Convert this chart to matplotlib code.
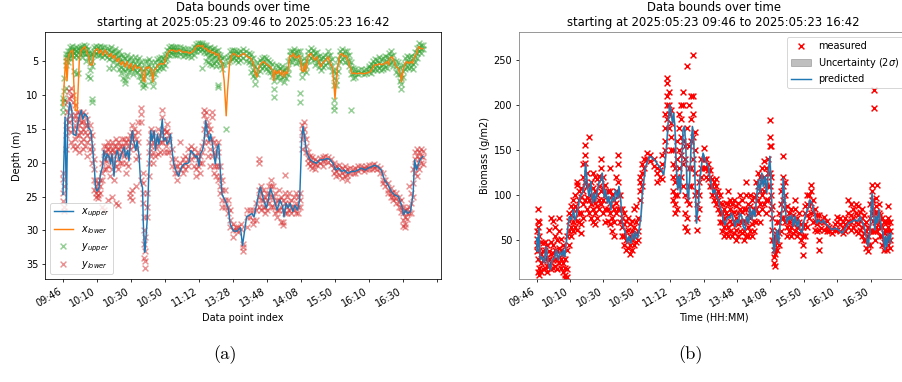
import matplotlib
matplotlib.use("Agg")
import matplotlib.pyplot as plt

# ---------------------------------------------------------------- data
tick_labels = ['09:46', '10:10', '10:30', '10:50', '11:12', '13:28',
               '13:48', '14:08', '15:50', '16:10', '16:30']
tick_pos = [0, 50, 100, 150, 200, 250, 300, 350, 400, 450, 500, 550]

title_text = "Data bounds over time\nstarting at 2025:05:23 09:46 to 2025:05:23 16:42"

# depth bounds (index, depth in m)
x_upper = [(0, 24.7), (3, 13.3), (5, 26.2), (7, 13.8), (10, 11.1), (13, 12.3), (15, 15.8),
           (19, 16.0), (21, 14.8), (24, 13.1), (27, 12.3), (29, 13.6), (32, 12.8), (36, 13.3),
           (37, 14.8), (41, 15.3), (43, 17.3), (46, 20.7), (48, 23.7), (50, 24.2), (53, 23.7),
           (55, 21.7), (58, 20.7), (60, 18.2), (63, 19.7), (65, 18.7), (68, 19.2), (70, 20.2),
           (72, 18.7), (75, 22.0), (77, 19.2), (80, 18.2), (83, 19.7), (86, 18.7), (90, 17.7),
           (92, 19.2), (95, 18.2), (97, 19.7), (99, 17.3), (102, 15.3), (104, 16.8), (107, 18.2),
           (109, 16.8), (112, 19.2), (114, 22.7), (117, 23.7), (118, 28.6), (120, 33.2),
           (121, 32.5), (124, 28.2), (126, 22.2), (129, 15.3), (131, 16.8), (134, 15.3),
           (136, 18.2), (139, 15.8), (141, 17.3), (143, 16.3), (146, 13.6), (148, 16.8),
           (151, 16.3), (153, 17.3), (156, 16.8), (158, 15.8), (161, 18.7), (163, 20.2),
           (167, 21.4), (170, 22.0), (174, 20.7), (178, 20.2), (183, 20.1), (185, 20.0),
           (188, 18.2), (192, 18.7), (195, 19.2), (197, 19.0), (200, 20.5), (202, 18.7),
           (205, 18.2), (207, 17.3), (210, 13.8), (212, 15.3), (215, 16.8), (217, 15.8),
           (219, 16.8), (224, 20.2), (227, 17.7), (229, 17.3), (232, 22.2), (234, 24.7),
           (239, 25.7), (243, 26.7), (246, 29.1), (251, 30.1), (256, 30.1), (261, 29.6),
           (264, 32.2), (270, 28.0), (278, 27.5), (281, 28.0), (285, 26.0), (290, 23.6),
           (292, 24.3), (295, 25.5), (299, 26.7), (302, 25.5), (305, 23.8), (309, 25.0),
           (312, 26.0), (315, 27.0), (319, 25.5), (323, 26.5), (325, 28.0), (328, 26.0),
           (331, 26.7), (334, 26.0), (338, 27.2), (341, 26.3), (345, 27.0), (348, 25.5),
           (351, 16.7), (353, 14.7), (356, 16.7), (358, 18.4), (361, 19.1), (364, 19.6),
           (368, 19.9), (373, 20.1), (378, 19.6), (383, 19.6), (388, 19.4), (392, 19.5),
           (397, 20.1), (401, 21.1), (405, 20.8), (410, 21.3), (414, 21.1), (419, 21.6),
           (424, 21.3), (429, 21.3), (434, 21.1), (439, 20.8), (444, 21.1), (449, 20.8),
           (454, 20.6), (458, 20.4), (463, 20.6), (468, 21.1), (473, 22.6), (478, 23.3),
           (483, 24.3), (488, 24.8), (493, 25.0), (498, 26.3), (501, 27.7), (504, 27.0),
           (507, 27.5), (511, 27.2), (515, 24.5), (517, 19.6), (520, 21.1), (522, 20.4),
           (525, 19.6), (529, 19.1)]

x_lower = [(0, 11.6), (2, 7.9), (4, 4.6), (6, 7.9), (8, 4.4), (11, 3.7), (14, 3.4), (16, 8.4),
           (18, 12.3), (21, 12.3), (24, 4.9), (26, 3.5), (29, 3.2), (32, 2.9), (35, 3.7),
           (38, 4.4), (40, 5.6), (43, 5.6), (46, 3.7), (48, 3.4), (51, 3.2), (53, 3.9), (56, 3.4),
           (59, 4.2), (62, 3.4), (65, 3.9), (68, 4.4), (71, 3.9), (73, 4.6), (76, 4.2), (79, 5.1),
           (82, 4.6), (85, 5.6), (88, 5.1), (91, 5.9), (94, 5.1), (97, 6.1), (100, 5.4),
           (103, 6.4), (106, 5.6), (109, 6.1), (113, 5.9), (116, 6.4), (118, 7.9), (120, 8.1),
           (122, 5.9), (124, 6.1), (127, 5.9), (130, 6.4), (132, 8.1), (134, 6.4), (137, 6.1),
           (140, 5.6), (143, 5.4), (146, 5.5), (149, 5.4), (152, 4.4), (155, 3.7), (158, 3.4),
           (161, 3.5), (163, 3.4), (166, 3.7), (169, 3.5), (172, 3.4), (175, 3.7), (179, 3.7),
           (183, 3.7), (186, 3.9), (190, 3.7), (193, 3.4), (196, 2.9), (199, 2.7), (202, 2.9),
           (205, 2.7), (208, 3.2), (211, 3.2), (214, 3.7), (216, 3.4), (219, 3.9), (222, 3.7),
           (225, 4.2), (228, 3.9), (231, 4.9), (234, 5.4), (237, 7.9), (239, 11.3), (240, 13.1),
           (242, 9.4), (245, 5.4), (248, 4.2), (251, 3.9), (255, 4.2), (258, 4.4), (261, 4.2),
           (266, 3.9), (271, 4.4), (276, 4.6), (280, 5.4), (283, 6.9), (285, 7.4), (288, 5.9),
           (291, 5.4), (295, 5.1), (298, 5.4), (301, 5.6), (305, 5.9), (308, 6.4), (310, 7.9),
           (312, 6.4), (315, 6.9), (317, 6.4), (320, 7.1), (322, 6.4), (325, 7.4), (327, 6.6),
           (330, 6.9), (332, 5.4), (334, 4.2), (337, 4.4), (339, 3.9), (342, 4.6), (345, 4.4),
           (348, 4.2), (351, 6.4), (353, 6.6), (355, 5.4), (357, 6.6), (359, 5.1), (361, 4.2),
           (364, 3.9), (366, 4.2), (370, 4.9), (373, 4.4), (376, 5.1), (379, 5.9), (381, 5.4),
           (384, 5.1), (387, 4.9), (390, 4.4), (393, 5.4), (396, 5.9), (398, 7.9), (400, 10.6),
           (402, 7.9), (404, 5.9), (407, 4.2), (410, 3.9), (413, 4.4), (416, 4.2), (419, 4.9),
           (422, 5.9), (425, 6.9), (428, 6.8), (432, 6.9), (437, 6.8), (442, 6.9), (447, 6.8),
           (452, 6.6), (455, 6.1), (458, 5.6), (462, 5.6), (466, 5.4), (469, 5.6), (473, 5.4),
           (476, 5.1), (479, 5.6), (481, 4.6), (484, 4.4), (487, 5.1), (490, 5.9), (493, 6.1),
           (496, 6.9), (498, 8.1), (500, 6.4), (503, 5.4), (505, 5.1), (508, 5.4), (511, 5.1),
           (514, 5.4), (517, 4.4), (520, 3.9), (523, 2.9), (526, 3.2), (529, 3.2)]

# observed depth bounds, grouped by index
y_upper = [(0, [11.0, 11.8, 12.5, 10.5]), (2, [9.5, 10.8, 7.5]), (4, [4.5, 5.0, 5.6, 4.0, 9.0]),
           (7, [4.0, 4.6, 3.5, 5.2]), (10, [3.5, 4.0, 3.0, 4.6]), (13, [3.2, 3.6, 4.2, 2.8]),
           (16, [3.3, 3.9, 4.5, 6.5]), (19, [3.0, 3.6, 4.2, 7.0]), (22, [3.1, 3.7, 4.4, 6.8]),
           (25, [2.9, 3.4, 4.0]), (28, [2.8, 3.3, 3.9, 4.5]), (31, [2.7, 3.2, 3.8]),
           (34, [2.8, 3.4, 4.0, 5.0]), (37, [3.2, 3.8, 4.5, 7.2]), (40, [3.8, 4.5, 5.3, 7.5, 6.3]),
           (43, [4.0, 5.0, 5.8, 10.6, 11.0]), (46, [2.9, 3.5, 4.2]), (49, [2.8, 3.3, 4.0]),
           (52, [2.9, 3.5, 4.2]), (55, [2.8, 3.4, 4.1]), (58, [3.0, 3.7, 4.5]), (61, [2.9, 3.5, 4.2]),
           (64, [3.1, 3.8, 4.5]), (67, [3.3, 4.0, 4.8, 6.0]), (70, [3.0, 3.7, 4.5]),
           (73, [3.5, 4.3, 5.2, 6.0]), (76, [3.3, 4.0, 4.8]), (79, [3.8, 4.6, 5.5]),
           (82, [3.6, 4.4, 5.2, 6.2]), (85, [4.2, 5.0, 5.9, 6.8]), (88, [4.3, 5.2, 6.2, 7.5]),
           (91, [4.6, 5.5, 6.5, 7.8, 8.2]), (94, [4.2, 5.0, 6.0, 7.2]), (97, [4.8, 5.7, 6.6]),
           (100, [4.5, 5.3, 6.2, 5.9]), (103, [5.0, 6.0, 6.9]), (106, [4.5, 5.4, 6.3]),
           (109, [4.9, 5.8, 6.7]), (112, [4.6, 5.5, 6.4, 7.3]), (115, [5.2, 6.1, 7.2, 8.0]),
           (118, [6.5, 7.5, 8.4, 8.8]), (121, [5.0, 6.0, 7.2, 8.5]), (124, [5.0, 5.9, 6.8]),
           (127, [4.8, 5.7, 6.6]), (130, [5.2, 6.1, 7.0, 8.0]), (132, [6.8, 7.8, 8.7]),
           (135, [5.2, 6.0, 6.9]), (138, [4.8, 5.6, 6.4]), (141, [4.6, 5.3, 6.0]),
           (144, [4.5, 5.2, 5.9]), (147, [4.6, 5.3, 6.0]), (150, [4.2, 4.9, 5.6]),
           (153, [3.4, 4.0, 4.7]), (156, [2.9, 3.5, 4.1]), (159, [2.8, 3.3, 3.9]),
           (162, [2.9, 3.4, 4.0]), (165, [3.0, 3.6, 4.2]), (168, [3.0, 3.5, 4.1]),
           (172, [2.9, 3.4, 4.0]), (176, [3.1, 3.7, 4.3]), (180, [3.2, 3.7, 4.2]),
           (184, [3.2, 3.8, 4.3]), (188, [3.3, 3.9, 4.4]), (192, [3.0, 3.5, 4.1]),
           (195, [2.5, 3.0, 3.5]), (198, [2.3, 2.8, 3.3]), (201, [2.4, 2.9, 3.5]),
           (204, [2.3, 2.7, 3.2, 6.0]), (207, [2.6, 3.1, 3.7]), (210, [2.7, 3.2, 3.8, 5.0]),
           (213, [3.1, 3.7, 4.4, 5.2]), (216, [3.0, 3.5, 4.2, 5.5]), (219, [3.3, 4.0, 4.8, 5.6]),
           (222, [3.1, 3.7, 4.5, 5.3]), (225, [3.5, 4.2, 5.0, 5.8]), (228, [3.4, 4.0, 4.8, 8.5, 8.9]),
           (231, [4.2, 4.9, 5.6]), (234, [4.6, 5.4, 6.2]), (237, [4.5, 5.5]), (240, [15.0]),
           (243, [4.5, 5.2]), (246, [3.6, 4.3, 5.0]), (249, [3.4, 4.0, 4.7]), (252, [3.4, 4.0, 4.6]),
           (255, [3.6, 4.2, 4.9]), (258, [3.7, 4.4, 5.1]), (261, [3.6, 4.2, 4.9]),
           (265, [3.3, 3.9, 4.6]), (269, [3.6, 4.2, 5.0]), (273, [3.8, 4.5, 5.2]),
           (277, [4.0, 4.7, 5.5, 6.6]), (280, [4.6, 5.4, 6.3, 7.3]), (283, [5.7, 6.8, 7.6, 8.4]),
           (286, [5.2, 6.2, 7.0]), (289, [4.9, 5.7, 6.5]), (292, [4.6, 5.3, 6.1]),
           (296, [4.4, 5.1, 5.8]), (299, [4.6, 5.4, 6.2]), (302, [4.9, 5.7, 6.5]),
           (305, [5.1, 5.9, 6.7]), (308, [5.5, 6.4, 7.3]), (310, [6.8, 7.9, 9.1, 10.3]),
           (313, [5.6, 6.5, 7.4]), (316, [5.7, 6.5, 7.3]), (319, [6.0, 6.9, 7.8]),
           (322, [5.7, 6.5, 7.4]), (325, [6.4, 7.3, 8.1]), (328, [6.0, 6.8, 7.6]),
           (331, [5.0, 6.0, 7.0]), (334, [3.5, 4.2, 5.0]), (337, [3.6, 4.4, 5.2]),
           (340, [3.2, 3.9, 4.6]), (343, [3.7, 4.5, 5.3]), (346, [3.5, 4.3, 5.1]),
           (349, [3.6, 4.4, 5.2, 9.8, 11.1]), (352, [5.5, 6.5, 7.4]), (355, [4.6, 5.4, 6.3]),
           (358, [5.0, 5.8, 6.7]), (361, [3.5, 4.2, 5.0]), (364, [3.1, 3.8, 4.6]),
           (367, [3.4, 4.1, 4.9]), (371, [3.9, 4.8, 5.6]), (374, [3.7, 4.4, 5.2]),
           (377, [4.3, 5.1, 5.9]), (380, [4.6, 5.5, 6.4]), (383, [4.4, 5.1, 5.9]),
           (386, [4.1, 4.8, 5.6]), (389, [3.6, 4.3, 5.1]), (392, [4.2, 5.0, 5.8]),
           (395, [4.8, 5.7, 6.5]), (398, [6.5, 7.6, 8.5]), (399, [10.8, 11.6, 12.3]),
           (402, [6.8, 7.8, 8.6]), (405, [4.8, 5.6, 6.5]), (408, [3.5, 4.2, 5.0]),
           (411, [3.3, 4.0, 4.8]), (414, [3.6, 4.3, 5.1]), (417, [3.6, 4.3, 5.0]),
           (420, [4.2, 5.0, 5.8]), (423, [5.2, 6.0, 7.0, 12.2]), (426, [6.0, 6.8, 7.6]),
           (430, [6.2, 6.8, 7.4]), (434, [6.3, 6.9]), (438, [6.2, 6.8]), (442, [6.4, 7.0]),
           (446, [6.2, 6.8]), (450, [6.0, 6.6, 5.8]), (453, [5.5, 6.1, 6.8]), (456, [5.0, 5.6, 6.3]),
           (459, [4.8, 5.5, 6.2]), (462, [4.9, 5.6, 6.4]), (465, [4.5, 5.3, 6.1]),
           (468, [4.8, 5.6, 6.4]), (471, [4.6, 5.4, 6.2]), (474, [4.3, 5.1, 5.9]),
           (477, [4.4, 5.2, 6.0]), (480, [3.9, 4.6, 5.4]), (483, [3.6, 4.3, 5.1]),
           (486, [4.2, 5.0, 5.8]), (489, [5.0, 5.8, 6.7]), (492, [5.2, 6.0, 6.9]),
           (495, [5.9, 7.0, 7.9]), (497, [7.5, 8.4, 9.2]), (500, [5.6, 6.5, 7.4]),
           (503, [4.6, 5.4, 6.2]), (506, [4.3, 5.1, 5.9]), (509, [4.4, 5.2, 6.0]),
           (512, [4.3, 5.1, 5.9]), (515, [4.6, 5.4, 6.2]), (518, [3.7, 4.4, 5.2]),
           (521, [3.1, 3.8, 4.6]), (524, [2.4, 3.0, 3.6]), (527, [2.6, 3.2, 3.8]), (529, [2.7, 3.3])]

y_lower = [(0, [21.5, 22.4, 24.5, 25.7]), (2, [26.5, 27.1, 23.5]), (4, [14.5, 16.0, 18.0]),
           (6, [11.0, 12.5, 13.5, 15.0]), (9, [9.5, 10.5, 12.0, 14.0]),
           (12, [9.0, 10.2, 13.0, 15.5, 17.0]), (15, [10.0, 11.0, 13.5, 15.0, 17.5]),
           (18, [11.5, 13.0, 14.5, 16.5, 18.0]), (21, [12.5, 13.5, 15.0, 16.0, 17.5]),
           (24, [12.5, 13.5, 14.5, 16.0, 18.5]), (27, [13.0, 14.0, 15.5, 17.0]),
           (30, [12.5, 13.8, 15.0, 16.5, 18.0]), (33, [13.0, 14.5, 15.5, 17.5]),
           (36, [13.5, 14.5, 16.0, 17.0, 19.0]), (39, [14.5, 15.5, 16.5, 18.0]),
           (42, [16.0, 17.5, 18.5, 20.0]), (45, [19.5, 21.0, 22.5, 24.0]),
           (48, [22.5, 23.5, 24.5, 25.0]), (51, [23.0, 24.0, 24.8, 25.2]), (54, [22.5, 23.5, 24.5]),
           (57, [20.0, 21.5, 22.5, 26.5]), (60, [17.5, 18.5, 19.5, 21.0, 27.0]),
           (63, [17.5, 18.5, 19.8, 21.0]), (66, [17.0, 18.0, 19.0, 20.5, 25.5]),
           (69, [17.5, 18.5, 19.5, 22.0]), (72, [17.0, 18.2, 19.5, 21.0, 25.0]),
           (75, [17.5, 18.5, 20.0, 22.5]), (78, [16.5, 17.5, 18.5, 20.5, 26.0]),
           (81, [17.0, 18.0, 19.5, 21.0, 26.2]), (84, [17.5, 18.8, 20.0]),
           (87, [16.5, 17.5, 18.5, 20.0]), (90, [16.5, 17.5, 19.0]), (93, [17.0, 18.5, 20.0, 21.5]),
           (96, [16.5, 17.5, 19.0, 20.5]), (99, [16.0, 17.0, 18.0, 24.5, 25.0]),
           (102, [14.5, 15.5, 16.5, 24.0, 25.5]), (105, [15.0, 16.0, 17.5]),
           (108, [16.5, 18.0, 19.5, 23.5]), (111, [14.0, 15.5, 17.0, 19.0]),
           (114, [12.0, 12.8, 14.0, 22.5]), (117, [21.5, 23.0, 24.5, 26.0]),
           (119, [28.0, 30.0, 32.0, 34.0]), (121, [31.0, 33.0, 34.5, 35.5]),
           (124, [24.5, 26.5, 28.0]), (127, [17.0, 18.5, 20.0, 22.0]),
           (130, [15.0, 16.0, 17.5, 19.0]), (133, [15.5, 17.0, 18.5, 20.0]),
           (136, [16.5, 17.5, 19.0]), (139, [15.0, 16.5, 17.5, 18.8]), (142, [16.0, 17.0, 18.5]),
           (145, [12.3, 13.3, 15.5, 17.0]), (148, [15.0, 16.5, 18.5]), (151, [15.5, 16.5, 17.5]),
           (153, [14.3, 15.3, 18.5]), (156, [16.0, 17.0, 18.5]), (160, [18.0, 19.5, 20.5]),
           (164, [19.5, 20.5, 21.5]), (168, [20.5, 21.5, 22.5]), (172, [20.0, 21.0, 17.0]),
           (176, [19.5, 20.5, 21.5]), (180, [19.0, 20.0, 21.0]), (184, [18.0, 19.5, 20.5]),
           (188, [17.5, 18.5, 19.5]), (192, [18.0, 19.0, 20.5]), (195, [21.0, 22.0, 19.0]),
           (198, [18.5, 19.5, 20.5]), (201, [19.0, 20.0, 21.5]), (204, [17.5, 18.5, 20.0]),
           (207, [13.0, 15.0, 17.0, 12.3]), (210, [12.5, 13.5, 14.5, 16.0]),
           (213, [14.5, 15.5, 17.0, 19.0]), (216, [15.0, 16.5, 18.0, 20.5]),
           (219, [12.5, 13.3, 16.5, 19.0]), (222, [17.0, 18.5, 20.5, 21.5]),
           (225, [17.5, 19.0, 20.5, 22.0]), (228, [17.0, 18.5, 20.5, 22.5]),
           (231, [20.5, 22.0, 23.5, 24.5]), (234, [22.5, 24.0, 25.5, 26.5]),
           (238, [24.0, 25.5, 26.5]), (242, [25.5, 26.5, 27.5]), (246, [27.0, 28.5, 29.5]),
           (250, [29.0, 30.0, 31.0]), (254, [29.5, 30.0]), (258, [29.5, 30.2]), (262, [29.0, 29.8]),
           (265, [32.5, 33.0, 32.0]), (270, [27.0, 28.0, 29.5]), (275, [27.0, 28.0]),
           (280, [27.0, 28.5, 29.0]), (284, [26.0, 27.0, 28.5]),
           (288, [24.0, 25.0, 26.5, 19.5, 20.1]), (291, [23.5, 24.5, 25.5, 27.0]),
           (294, [24.0, 25.5, 26.5]), (297, [25.0, 26.5, 27.5]), (300, [24.5, 25.5, 27.0]),
           (303, [23.5, 24.5, 26.0]), (306, [22.5, 23.5, 25.0, 26.5]), (309, [23.5, 25.0, 26.5]),
           (312, [24.5, 26.0, 27.5]), (315, [25.5, 27.0, 28.0]), (318, [24.0, 25.5, 27.0]),
           (321, [25.0, 26.5, 28.8]), (324, [25.5, 27.0, 29.2, 28.7]),
           (327, [24.5, 26.0, 27.5, 21.8]), (330, [25.0, 26.5, 27.5]), (333, [24.5, 26.0, 27.0]),
           (336, [25.5, 26.5, 27.5]), (339, [25.0, 26.5, 27.0]), (342, [24.5, 26.0, 27.5]),
           (345, [25.0, 26.5, 27.5]), (348, [24.5, 25.5, 26.5]), (351, [14.5, 15.5, 16.5, 18.0]),
           (354, [14.0, 15.0, 16.0]), (357, [16.5, 17.5, 18.5]), (360, [18.5, 19.3, 20.0]),
           (363, [19.0, 19.8, 20.5]), (366, [19.2, 20.0, 20.8]), (370, [19.5, 20.2, 21.0]),
           (374, [19.7, 20.3]), (378, [19.3, 20.0]), (382, [19.2, 19.8, 20.5]), (386, [19.0, 19.7]),
           (390, [19.2, 19.9]), (394, [19.5, 20.3]), (398, [20.0, 20.8, 21.5]),
           (402, [20.5, 21.3, 22.0]), (406, [20.3, 21.0, 21.8]), (410, [20.8, 21.5, 22.3]),
           (414, [20.5, 21.3, 22.0]), (418, [21.0, 21.8, 22.5]), (422, [20.8, 21.5]),
           (426, [21.0, 21.6]), (430, [20.8, 21.5]), (434, [20.5, 21.2]), (438, [20.5, 21.0]),
           (442, [20.8, 21.3]), (446, [20.5, 21.0]), (450, [20.4, 20.9]), (454, [20.3, 20.9]),
           (458, [20.2, 20.8]), (462, [20.5, 21.0]), (466, [20.8, 21.5]), (470, [21.5, 22.5, 23.0]),
           (474, [22.5, 23.5]), (478, [23.0, 24.0, 24.5]), (482, [23.8, 24.5, 25.0]),
           (486, [24.3, 25.0, 25.5]), (490, [24.5, 25.2, 26.0]), (494, [25.0, 25.8, 26.5]),
           (497, [25.5, 26.5, 27.3]), (500, [26.5, 27.5, 28.5, 29.3]),
           (503, [27.0, 28.0, 29.0, 29.5]), (506, [26.8, 27.5, 28.3]), (509, [26.5, 27.5, 23.5]),
           (512, [24.5, 26.0, 27.5]), (515, [21.0, 23.0, 25.0]), (518, [18.5, 19.5, 20.5, 21.5]),
           (521, [18.0, 19.0, 20.5, 22.0]), (524, [18.5, 19.5, 21.0]), (527, [18.0, 19.0, 20.0]),
           (529, [18.3, 19.2, 20.2])]

# biomass (index, g/m2)
predicted = [(0, 52.7), (1, 37.9), (3, 63.7), (5, 28.6), (8, 32.3), (11, 25.0), (14, 43.4),
             (17, 25.0), (20, 17.6), (23, 28.6), (26, 30.5), (29, 39.8), (32, 28.6), (35, 37.9),
             (38, 32.3), (40, 39.8), (42, 32.3), (44, 47.1), (47, 67.4), (49, 76.7), (52, 73.0),
             (55, 84.0), (57, 73.0), (59, 76.7), (62, 87.8), (65, 98.9), (68, 102.6), (71, 110.0),
             (73, 135.8), (76, 110.0), (78, 99.0), (81, 115.5), (83, 91.5), (86, 102.6),
             (88, 93.3), (91, 106.3), (93, 113.7), (96, 117.4), (98, 124.8), (101, 97.0),
             (103, 106.3), (106, 91.5), (108, 98.9), (111, 84.1), (113, 98.9), (116, 93.3),
             (118, 106.3), (121, 97.0), (123, 110.0), (126, 91.5), (128, 69.3), (131, 61.9),
             (133, 58.1), (136, 47.1), (138, 54.5), (141, 47.1), (143, 58.1), (146, 50.8),
             (148, 60.0), (151, 52.7), (153, 61.9), (156, 76.7), (158, 102.6), (161, 121.0),
             (163, 132.1), (166, 137.7), (169, 143.3), (173, 141.4), (178, 137.7), (183, 132.1),
             (187, 128.4), (190, 122.8), (192, 135.8), (195, 161.6), (197, 183.8), (199, 200.4),
             (201, 194.9), (203, 180.1), (205, 191.2), (207, 172.7), (209, 128.4), (211, 106.3),
             (213, 121.0), (215, 102.6), (217, 135.8), (219, 172.7), (221, 176.4), (223, 158.0),
             (225, 106.3), (227, 95.2), (229, 121.0), (231, 154.3), (233, 176.4), (235, 161.6),
             (237, 113.7), (239, 69.3), (242, 91.5), (244, 117.4), (247, 135.8), (249, 146.9),
             (252, 139.5), (254, 135.8), (257, 132.0), (259, 121.0), (262, 110.0), (264, 102.6),
             (267, 106.3), (269, 98.9), (272, 95.2), (274, 87.8), (277, 82.2), (279, 73.0),
             (282, 67.4), (284, 73.0), (287, 76.7), (289, 74.8), (292, 80.4), (294, 73.0),
             (297, 65.6), (299, 73.0), (302, 69.3), (304, 80.4), (307, 76.7), (309, 65.6),
             (312, 61.9), (314, 76.7), (317, 69.3), (319, 87.8), (322, 73.0), (324, 84.1),
             (327, 76.7), (329, 98.9), (332, 117.4), (334, 102.6), (337, 124.8), (339, 110.0),
             (342, 121.0), (344, 102.6), (347, 128.4), (349, 143.3), (351, 106.3), (353, 61.9),
             (355, 35.9), (357, 47.1), (359, 61.9), (362, 47.1), (364, 65.6), (367, 84.1),
             (369, 119.0), (372, 87.8), (374, 69.3), (377, 76.7), (379, 73.0), (382, 78.5),
             (384, 65.6), (387, 76.7), (389, 65.6), (392, 73.0), (394, 61.9), (397, 58.1),
             (399, 69.3), (402, 76.7), (404, 82.2), (407, 87.8), (409, 95.2), (412, 91.5),
             (414, 84.1), (417, 76.7), (419, 69.3), (422, 73.0), (424, 71.1), (427, 69.3),
             (429, 73.0), (432, 69.3), (437, 65.6), (442, 61.9), (447, 63.7), (452, 61.9),
             (457, 58.1), (462, 63.7), (467, 69.3), (472, 71.1), (477, 73.0), (481, 71.1),
             (484, 76.7), (487, 71.1), (490, 65.6), (493, 54.5), (496, 43.4), (499, 61.9),
             (500, 76.7), (502, 102.6), (504, 84.1), (506, 61.9), (508, 76.7), (510, 69.3),
             (512, 84.1), (514, 73.0), (517, 61.9), (519, 54.5), (521, 39.8), (522, 54.5),
             (524, 43.4), (526, 58.1), (529, 47.1), (530, 58.1)]

measured = [(0, [38, 45, 52, 60]), (2, [15, 30, 65, 72, 85]), (4, [12, 20, 40, 55, 70]),
            (7, [15, 25, 35, 48]), (10, [18, 28, 38, 47]), (13, [20, 30, 40, 48]),
            (16, [15, 22, 32, 45]), (19, [22, 30, 38, 62]), (22, [18, 25, 35, 48, 75]),
            (25, [20, 28, 36, 45, 72]), (28, [22, 30, 40, 55, 65]), (31, [18, 28, 38, 50]),
            (34, [25, 32, 42, 60, 75]), (37, [20, 30, 40, 52]), (40, [15, 25, 35, 45]),
            (43, [8, 12, 20, 30]), (46, [10, 18, 40, 55]), (49, [45, 60, 72, 80]),
            (52, [55, 65, 78, 88]), (55, [60, 70, 85, 95]), (58, [65, 75, 88, 100]),
            (61, [62, 72, 85, 112, 115]), (64, [70, 80, 95, 105]), (67, [58, 68, 80, 98, 108]),
            (70, [75, 90, 105, 120, 135]), (73, [95, 115, 136, 145, 156]), (76, [85, 98, 110, 125]),
            (79, [80, 95, 165, 112]), (82, [75, 90, 100, 115]), (85, [70, 85, 95, 108, 125]),
            (88, [68, 80, 92, 105, 120]), (91, [75, 88, 100, 118]), (94, [85, 95, 110, 122]),
            (97, [90, 105, 118, 130, 140]), (100, [80, 95, 108, 120]), (103, [70, 85, 100, 112]),
            (106, [72, 85, 95, 105]), (109, [68, 80, 92, 105, 130]), (112, [60, 75, 88, 100]),
            (115, [55, 70, 85, 95]), (118, [80, 92, 105, 120]), (121, [85, 100, 115, 135, 145]),
            (124, [70, 85, 100]), (127, [55, 65, 75, 85]), (130, [45, 55, 68, 80]),
            (133, [40, 50, 60, 72]), (136, [42, 52, 62, 75]), (139, [35, 45, 55, 68]),
            (142, [40, 50, 60, 72]), (145, [45, 55, 65, 85]), (148, [48, 58, 70, 88]),
            (151, [50, 60, 75]), (154, [95, 105, 115, 120]), (157, [110, 125, 135]),
            (160, [130, 140]), (165, [140, 147]), (170, [138, 145]), (175, [132, 140]),
            (180, [125, 130, 115]), (184, [120, 128]), (188, [118, 135, 145]),
            (192, [150, 160, 175, 190]), (195, [185, 200, 210, 225, 230]),
            (198, [175, 190, 200, 215]), (201, [150, 165, 180, 195]),
            (204, [95, 105, 120, 135, 150]), (207, [80, 90, 100, 115, 130]),
            (210, [85, 100, 120, 140, 160]), (213, [110, 130, 150, 175, 190]),
            (216, [120, 145, 165, 185, 200]), (219, [110, 135, 160, 200, 215]),
            (222, [65, 80, 100, 140, 155]), (225, [60, 75, 95, 175, 243]),
            (228, [90, 110, 130, 155, 200]), (231, [110, 130, 160, 185, 210]),
            (234, [140, 165, 190, 210, 255]), (237, [100, 125, 150, 170]),
            (240, [62, 75, 90, 105]), (243, [85, 100, 115]), (246, [120, 130, 140]),
            (250, [140, 152, 130]), (253, [130, 140, 120]), (256, [118, 128, 135]),
            (259, [110, 120, 128]), (262, [100, 110, 118]), (265, [95, 105, 115]),
            (268, [90, 100, 110, 118]), (271, [85, 95, 105]), (274, [70, 80, 92, 100]),
            (277, [60, 70, 80, 90]), (280, [55, 65, 75, 85]), (283, [58, 68, 80, 92]),
            (286, [55, 65, 78, 90, 105]), (289, [60, 72, 85, 95]), (292, [55, 68, 80, 90]),
            (295, [58, 70, 82, 95]), (298, [50, 62, 75, 88]), (301, [55, 68, 80, 92]),
            (304, [60, 72, 85, 100]), (307, [58, 70, 82, 95]), (310, [50, 60, 72, 85]),
            (313, [55, 70, 85, 100, 115]), (316, [55, 65, 78, 90]), (319, [60, 75, 88, 100]),
            (322, [55, 68, 80, 95]), (325, [60, 72, 85, 98]), (328, [70, 85, 100, 115]),
            (331, [80, 95, 110, 125]), (334, [70, 90, 105, 120]), (337, [85, 100, 115, 130]),
            (340, [90, 105, 120, 138]), (343, [80, 95, 112, 130]), (346, [95, 110, 125, 140]),
            (349, [110, 125, 155, 165, 183]), (351, [85, 100, 120, 155]),
            (353, [50, 62, 75, 88]), (355, [25, 32, 40, 50]), (357, [22, 35, 45, 55]),
            (360, [40, 50, 60, 70]), (363, [45, 58, 70, 80]), (366, [60, 75, 90, 105]),
            (369, [75, 95, 110, 120, 144]), (372, [70, 85, 100, 115]), (375, [55, 65, 75, 88]),
            (378, [60, 70, 80]), (381, [55, 65, 75, 85]), (384, [58, 68, 78]),
            (387, [60, 72, 85, 95]), (390, [55, 65, 75]), (393, [58, 70, 80]),
            (396, [50, 60, 68]), (399, [45, 55, 65, 34]), (402, [55, 68, 80, 88]),
            (405, [65, 78, 90, 100]), (408, [75, 88, 100]), (411, [80, 92, 105, 111]),
            (414, [70, 82, 95]), (417, [62, 72, 85]), (420, [60, 68, 78]),
            (423, [62, 70, 78, 50, 40]), (426, [64, 72]), (430, [62, 70, 76]),
            (434, [60, 66, 72]), (438, [60, 65]), (442, [58, 63]), (446, [62, 68]),
            (450, [62, 70, 76]), (454, [60, 68, 75]), (458, [58, 64, 70]), (462, [60, 68, 75]),
            (466, [65, 72, 80, 95]), (470, [62, 70, 78, 90]), (474, [65, 75, 85]),
            (478, [60, 70, 80, 90]), (481, [58, 68, 78, 88]), (484, [62, 72, 82]),
            (487, [55, 65, 75, 85]), (490, [50, 58, 68, 78]), (493, [42, 50, 60, 70]),
            (496, [38, 45, 55, 65]), (499, [45, 60, 75, 90]), (502, [80, 95, 105, 112]),
            (504, [60, 72, 85, 95]), (505, [197, 217]), (506, [50, 60, 70, 80]),
            (508, [65, 75, 88, 97]), (510, [60, 72, 82, 112]), (512, [70, 80, 90]),
            (514, [55, 65, 78]), (517, [45, 55, 65, 75]), (520, [40, 48, 58, 70]),
            (522, [42, 52, 62, 72]), (524, [40, 50, 60, 70]), (526, [45, 55, 65, 75, 88]),
            (529, [42, 50, 60, 70])]


def unzip(pairs):
    return [p[0] for p in pairs], [p[1] for p in pairs]


def flatten(groups):
    xs, ys = [], []
    for i, vals in groups:
        for v in vals:
            xs.append(i)
            ys.append(v)
    return xs, ys


# ---------------------------------------------------------------- figure
DPI = 70
W, H = 902, 382
fig = plt.figure(figsize=(W / DPI, H / DPI), dpi=DPI)

ax1 = fig.add_axes([45 / W, 1 - 279.3 / H, 395.7 / W, 247.3 / H])
ax2 = fig.add_axes([519 / W, 1 - 279.3 / H, 389.4 / W, 247.3 / H])

# (a) depth bounds
xi, xd = unzip(x_upper)
ax1.plot(xi, xd, color='tab:blue', lw=1.5, label=r'$x_{upper}$', zorder=3)
xi, xd = unzip(x_lower)
ax1.plot(xi, xd, color='tab:orange', lw=1.5, label=r'$x_{lower}$', zorder=3)
yi, yd = flatten(y_upper)
ax1.scatter(yi, yd, marker='x', color='tab:green', alpha=0.5, label=r'$y_{upper}$', zorder=2)
yi, yd = flatten(y_lower)
ax1.scatter(yi, yd, marker='x', color='tab:red', alpha=0.5, label=r'$y_{lower}$', zorder=2)

ax1.set_ylim(37.2, 0.75)
ax1.set_title(title_text, fontsize=12)
ax1.set_xlabel('Data point index')
ax1.set_ylabel('Depth (m)')
ax1.set_xticks(tick_pos)
ax1.set_xticklabels(tick_labels + [''], rotation=30, ha='right')
ax1.legend(loc='lower left')

# (b) biomass
mi, mv = flatten(measured)
ax2.scatter(mi, mv, marker='x', color='red', label='measured')
pi, pv = unzip(predicted)
ax2.fill_between(pi, pv, pv, color='gray', alpha=0.5, label=r'Uncertainty (2$\sigma$)')
ax2.plot(pi, pv, color='tab:blue', lw=1.5, label='predicted')

ax2.set_ylim(7, 281)
ax2.set_title(title_text, fontsize=12)
ax2.set_xlabel('Time (HH:MM)')
ax2.set_ylabel('Biomass (g/m2)')
ax2.set_xticks(tick_pos[:-1])
ax2.set_xticklabels(tick_labels, rotation=30, ha='right')
ax2.set_yticks([50, 100, 150, 200, 250])
for sp in ax2.spines.values():
    sp.set_color('#7f7f7f')
ax2.legend(loc='upper right')

# sub-figure captions
fig.text(225 / W, 1 - 355 / H, '(a)', fontsize=19, family='cmr10', ha='center', va='center')
fig.text(690 / W, 1 - 355 / H, '(b)', fontsize=19, family='cmr10', ha='center', va='center')

fig.savefig('out.png', dpi=DPI)
